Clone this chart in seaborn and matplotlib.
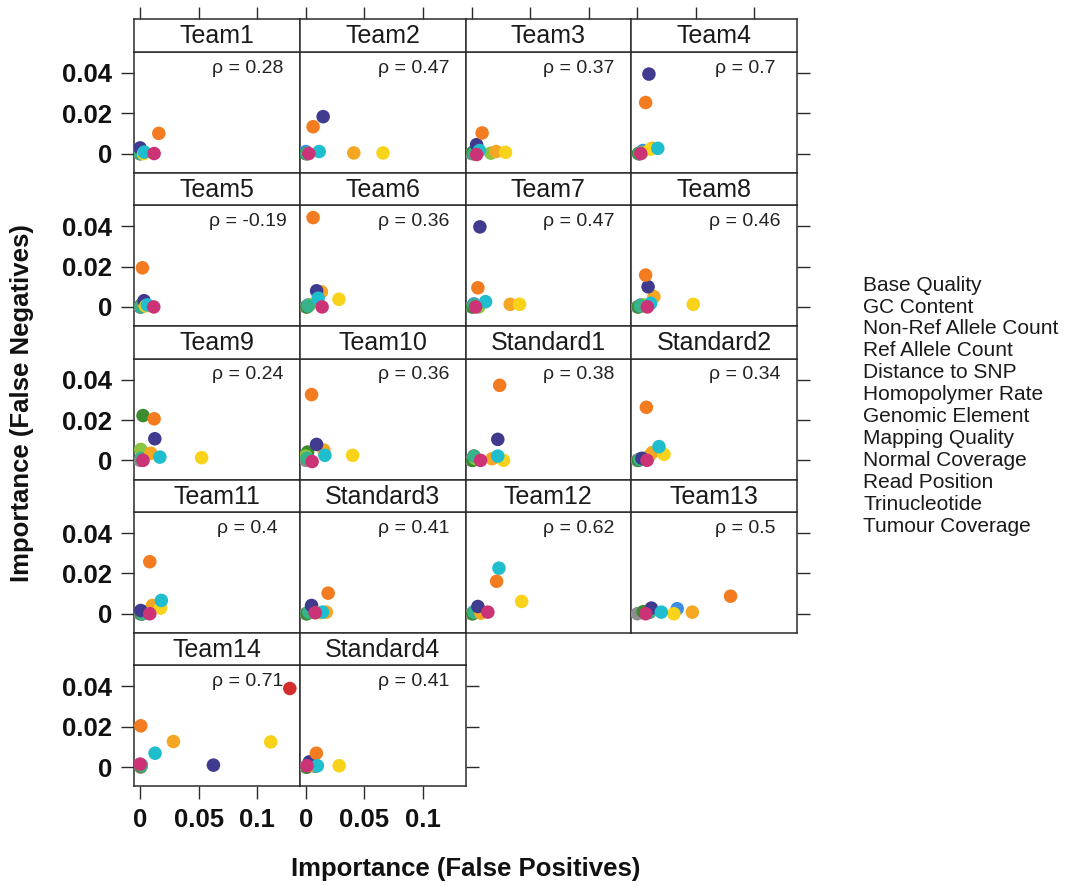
import matplotlib
matplotlib.use("Agg")
import matplotlib.pyplot as plt
import numpy as np
import pandas as pd
import seaborn as sns

sns.set_theme(style="white")
plt.rcParams["font.family"] = ["Liberation Sans", "DejaVu Sans"]

# ---- data -------------------------------------------------------------
features = ["Base Quality", "GC Content", "Non-Ref Allele Count", "Ref Allele Count",
            "Distance to SNP", "Homopolymer Rate", "Genomic Element", "Mapping Quality",
            "Normal Coverage", "Read Position", "Trinucleotide", "Tumour Coverage"]
feature_colors = ["#8E8E8E", "#36B38A", "#F47C20", "#F5A623",
                  "#8CC63F", "#3A8C2F", "#3A8EE8", "#403B8E",
                  "#CC3377", "#D42D2D", "#F8D31A", "#1FBECF"]
# painting rank of each feature (higher = drawn on top)
draw_rank = [0, 5, 8, 6, 4, 3, 2, 7, 11, 1, 9, 10]

panels = ["Team1", "Team2", "Team3", "Team4", "Team5", "Team6", "Team7", "Team8",
          "Team9", "Team10", "Standard1", "Standard2", "Team11", "Standard3",
          "Team12", "Team13", "Team14", "Standard4"]
rho = [0.28, 0.47, 0.37, 0.7, -0.19, 0.36, 0.47, 0.46, 0.24, 0.36,
       0.38, 0.34, 0.4, 0.41, 0.62, 0.5, 0.71, 0.41]

# importance for false positives / false negatives, one value per feature
team1_fp = [0.0, 0.0, 0.016, 0.004, 0.001, 0.0, 0.0, 0.0, 0.012, 0.0, 0.003, 0.0035]
team1_fn = [0.0, 0.0, 0.010, 0.0005, 0.0, 0.0005, 0.001, 0.0028, 0.0, 0.0, 0.0, 0.0007]
team2_fp = [0.0, 0.001, 0.0062, 0.041, 0.002, 0.0, 0.0, 0.0148, 0.0025, 0.001, 0.066, 0.0114]
team2_fn = [0.0, 0.0, 0.0133, 0.0003, 0.0, 0.0, 0.001, 0.0183, 0.0, 0.0, 0.0003, 0.001]
team3_fp = [0.0, 0.002, 0.009, 0.021, 0.0165, 0.001, 0.002, 0.0043, 0.0043, 0.002, 0.029, 0.0068]
team3_fn = [0.0, 0.0, 0.0102, 0.001, 0.0002, 0.0005, 0.001, 0.0044, -0.0005, 0.0, 0.0006, 0.0015]
team4_fp = [0.001, 0.002, 0.0071, 0.0127, 0.004, 0.001, 0.0049, 0.0099, 0.0029, 0.002, 0.011, 0.0175]
team4_fn = [0.0, 0.0, 0.0253, 0.0026, 0.0005, 0.0, 0.0015, 0.0394, 0.0, 0.0, 0.0022, 0.0026]
team5_fp = [0.0, 0.0006, 0.002, 0.004, 0.002, 0.001, 0.003, 0.0034, 0.0117, 0.0006, 0.005, 0.0062]
team5_fn = [0.0, 0.0, 0.0194, 0.001, 0.0005, 0.001, 0.002, 0.0031, 0.0, 0.0, 0.0005, 0.001]
team6_fp = [0.0, 0.002, 0.0062, 0.0133, 0.003, 0.001, 0.002, 0.0092, 0.0139, 0.002, 0.0283, 0.0105]
team6_fn = [0.0, 0.0005, 0.0443, 0.0075, 0.001, 0.0, 0.001, 0.008, 0.0, 0.0005, 0.0038, 0.0043]
team7_fp = [0.0, 0.002, 0.0054, 0.033, 0.006, 0.001, 0.002, 0.0071, 0.0034, 0.002, 0.041, 0.012]
team7_fn = [0.0, 0.001, 0.0095, 0.0013, 0.0, 0.0, 0.0015, 0.0397, 0.0, 0.001, 0.0013, 0.0026]
team8_fp = [0.0, 0.0025, 0.0071, 0.0142, 0.005, 0.001, 0.003, 0.0092, 0.0086, 0.0025, 0.0478, 0.0114]
team8_fn = [0.0, 0.0005, 0.0158, 0.0051, 0.001, 0.0, 0.001, 0.010, 0.0, 0.0005, 0.0013, 0.0018]
team9_fp = [0.0, 0.001, 0.012, 0.0092, 0.0006, 0.0025, 0.002, 0.0126, 0.0025, 0.001, 0.0526, 0.0169]
team9_fn = [0.0, 0.001, 0.0206, 0.0035, 0.0054, 0.0222, 0.001, 0.0107, 0.0, 0.001, 0.0013, 0.0016]
team10_fp = [0.0, 0.001, 0.0049, 0.0154, 0.0, 0.0015, 0.002, 0.0092, 0.0054, 0.001, 0.040, 0.0163]
team10_fn = [0.0, 0.001, 0.0326, 0.0051, 0.0021, 0.0041, 0.001, 0.0079, -0.0006, 0.001, 0.0025, 0.0025]
standard1_fp = [0.0, 0.002, 0.024, 0.0175, 0.003, 0.001, 0.002, 0.0224, 0.0077, 0.002, 0.0273, 0.0224]
standard1_fn = [0.0, 0.0021, 0.0372, 0.0008, 0.001, 0.0, 0.001, 0.0104, 0.0, 0.0021, 0.0, 0.0021]
standard2_fp = [0.0, 0.002, 0.0077, 0.0126, 0.010, 0.001, 0.002, 0.004, 0.0083, 0.002, 0.0228, 0.0185]
standard2_fn = [0.0, 0.0005, 0.0263, 0.0038, 0.002, 0.0, 0.0005, 0.001, 0.0, 0.0005, 0.003, 0.0068]
team11_fp = [0.0, 0.002, 0.0083, 0.0105, 0.004, 0.001, 0.001, 0.0006, 0.0083, 0.002, 0.0175, 0.0182]
team11_fn = [0.0, 0.0, 0.0258, 0.0041, 0.001, 0.0, 0.001, 0.0016, 0.0, 0.0, 0.0028, 0.0066]
standard3_fp = [0.0, 0.0025, 0.0191, 0.0175, 0.005, 0.001, 0.003, 0.0049, 0.008, 0.0025, 0.012, 0.0142]
standard3_fn = [0.0, 0.0008, 0.0102, 0.0008, 0.001, 0.0, 0.001, 0.0041, 0.0005, 0.0008, 0.0005, 0.0008]
team12_fp = [0.0, 0.002, 0.0214, 0.008, 0.004, 0.001, 0.002, 0.0054, 0.0139, 0.002, 0.0428, 0.0234]
team12_fn = [0.0, 0.0008, 0.0161, 0.0003, 0.001, 0.0, 0.001, 0.0036, 0.0008, 0.0008, 0.0061, 0.0226]
team13_fp = [0.0, 0.0105, 0.0797, 0.047, 0.010, 0.005, 0.0341, 0.012, 0.0071, 0.0105, 0.0312, 0.0205]
team13_fn = [0.0, 0.0008, 0.0087, 0.0008, 0.001, 0.001, 0.0025, 0.0028, 0.0, 0.0008, 0.0, 0.0008]
team14_fp = [0.0005, 0.001, 0.0006, 0.0285, 0.001, 0.0005, 0.001, 0.0627, 0.0, 0.128, 0.1117, 0.0128]
team14_fn = [0.0, 0.001, 0.0205, 0.0127, 0.001, 0.0005, 0.001, 0.001, 0.0015, 0.039, 0.0125, 0.0069]
standard4_fp = [0.0, 0.008, 0.009, 0.006, 0.004, 0.001, 0.002, 0.003, 0.001, 0.008, 0.0285, 0.0099]
standard4_fn = [0.0, 0.0005, 0.0069, 0.001, 0.001, 0.0, 0.001, 0.0026, 0.0007, 0.0005, 0.0007, 0.0007]

fp_values = [team1_fp, team2_fp, team3_fp, team4_fp, team5_fp, team6_fp, team7_fp, team8_fp,
             team9_fp, team10_fp, standard1_fp, standard2_fp, team11_fp, standard3_fp,
             team12_fp, team13_fp, team14_fp, standard4_fp]
fn_values = [team1_fn, team2_fn, team3_fn, team4_fn, team5_fn, team6_fn, team7_fn, team8_fn,
             team9_fn, team10_fn, standard1_fn, standard2_fn, team11_fn, standard3_fn,
             team12_fn, team13_fn, team14_fn, standard4_fn]

x_ticks = [0, 0.05, 0.1]
x_ticklabels = ["0", "0.05", "0.1"]
y_ticks = [0, 0.02, 0.04]
y_ticklabels = ["0", "0.02", "0.04"]

rows = []
for p, fps, fns in zip(panels, fp_values, fn_values):
    for f, x, y, r in zip(features, fps, fns, draw_rank):
        rows.append({"panel": p, "feature": f, "fp": x, "fn": y, "order": r})
df = pd.DataFrame(rows)
palette = dict(zip(features, feature_colors))

# ---- layout (pixels) ---------------------------------------------------
W, H = 1067, 886
fig = plt.figure(figsize=(W / 100, H / 100), dpi=100)

LEFT, TOP = 134.0, 19.3
PW, ROW = 165.75, 153.4
STRIP, PH = 32.4, 121.0
XLIM = (-0.0052, 0.1365)
YLIM = (-0.0095, 0.0505)
FRAME = "#2b2b2b"
TICK_FONT = dict(fontsize=18.5, fontweight="bold", color="#111111")
n_cols = 4
n_panels = len(panels)
n_rows = int(np.ceil(n_panels / n_cols))

def box(l, t, w, h):
    return [l / W, 1 - (t + h) / H, w / W, h / H]

for i, (name, r_val) in enumerate(zip(panels, rho)):
    r, c = divmod(i, n_cols)
    x0 = LEFT + c * PW
    y0 = TOP + r * ROW
    ax = fig.add_axes(box(x0, y0 + STRIP, PW, PH))
    sax = fig.add_axes(box(x0, y0, PW, STRIP))

    sub = df[df["panel"] == name].sort_values("order")
    sns.scatterplot(data=sub, x="fp", y="fn", hue="feature", hue_order=features,
                    palette=palette, s=95, linewidth=0, alpha=1.0,
                    legend=False, ax=ax, zorder=3)
    ax.set_xlim(*XLIM)
    ax.set_ylim(*YLIM)
    ax.set_xlabel("")
    ax.set_ylabel("")
    ax.tick_params(which="both", bottom=False, top=False, left=False, right=False,
                   labelbottom=False, labeltop=False, labelleft=False, labelright=False,
                   direction="out", length=9.5, width=1.0, color=FRAME, pad=6)
    for sp in ax.spines.values():
        sp.set_color(FRAME)
        sp.set_linewidth(1.1)
    ax.set_facecolor("white")

    # left column: y ticks with labels
    if c == 0:
        ax.tick_params(axis="y", left=True, labelleft=True)
    # last panel of each row: y ticks on the right
    if c == n_cols - 1 or i == n_panels - 1:
        ax.tick_params(axis="y", right=True)
    # bottom panels of columns that reach the last row
    if r == n_rows - 1:
        ax.tick_params(axis="x", bottom=True, labelbottom=True)

    ax.set_xticks(x_ticks, x_ticklabels, **TICK_FONT)
    ax.set_yticks(y_ticks, y_ticklabels, **TICK_FONT)

    ax.text(0.685, 0.865, f"\u03c1 = {r_val:g}", transform=ax.transAxes,
            ha="center", va="center", fontsize=14, color="#222222")

    # strip
    sax.set_xlim(*XLIM)
    sax.set_ylim(0, 1)
    sax.set_yticks([])
    sax.set_xticks(x_ticks)
    sax.tick_params(axis="x", bottom=False, labelbottom=False, top=(r == 0),
                    labeltop=False, direction="out", length=9, width=1.0, color=FRAME)
    sax.set_facecolor("white")
    for sp in sax.spines.values():
        sp.set_color(FRAME)
        sp.set_linewidth(1.1)
    sax.text(0.5, 0.47, name, transform=sax.transAxes, ha="center", va="center",
             fontsize=18, color="#1a1a1a")

# axis titles
fig.text((LEFT + 2 * PW) / W, 1 - 869 / H, "Importance (False Positives)",
         ha="center", va="center", fontsize=18.5, fontweight="bold", color="#111111")
fig.text(22 / W, 1 - 403 / H, "Importance (False Negatives)", rotation=90,
         ha="center", va="center", fontsize=18.5, fontweight="bold", color="#111111")

# feature key (text only)
for k, f in enumerate(features):
    fig.text(863 / W, 1 - (290.7 + k * 21.9) / H, f, ha="left", va="baseline",
             fontsize=15, color="#1a1a1a")

fig.savefig("out.png", dpi=100, facecolor="white")
